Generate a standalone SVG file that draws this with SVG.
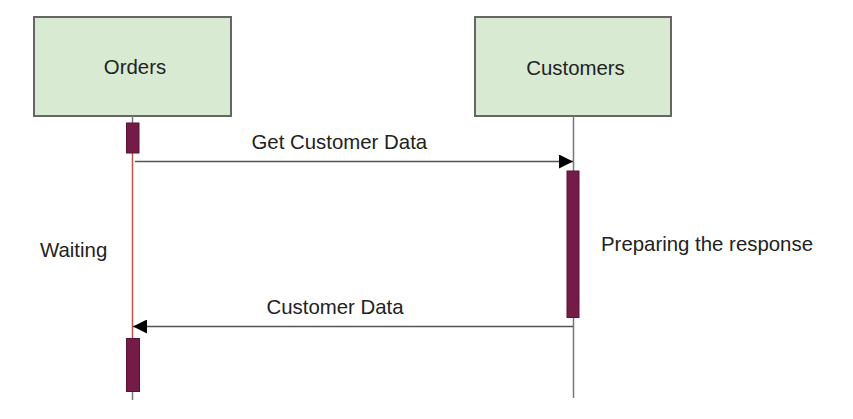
<svg xmlns="http://www.w3.org/2000/svg" width="853" height="419" viewBox="0 0 853 419">
<defs>
<marker id="ah" viewBox="0 0 14 14" refX="14" refY="7" markerWidth="14" markerHeight="14" markerUnits="userSpaceOnUse" orient="auto">
<path d="M0,0 L14,7 L0,14 Z" fill="#000"/>
</marker>
</defs>
<style>
.box{fill:#d9ead3;stroke:#666;stroke-width:2}
.act{fill:#741b47;stroke:#5a1236;stroke-width:1}
.life{stroke:#777;stroke-width:1.5;fill:none}
.red{stroke:#c0504d;stroke-width:1.5;fill:none}
.msg{stroke:#555;stroke-width:1.5;fill:none}
text{font-family:"Liberation Sans",Arial,sans-serif;font-size:20.4px;fill:#222}
</style>
<rect width="853" height="419" fill="#fff"/>
<g id="orders">
<rect class="box" x="34" y="17" width="197" height="99"/>
<text x="135" y="74" text-anchor="middle">Orders</text>
<line class="life" x1="132.5" y1="116" x2="132.5" y2="123"/>
<line class="red" x1="132.5" y1="153" x2="132.5" y2="338"/>
<line class="life" x1="132.5" y1="392" x2="132.5" y2="400"/>
<rect class="act" x="126.5" y="123" width="12.5" height="30"/>
<rect class="act" x="126.5" y="338.5" width="13" height="53"/>
</g>
<g id="customers">
<rect class="box" x="475" y="17" width="196" height="99"/>
<text x="575.5" y="75" text-anchor="middle">Customers</text>
<line class="life" x1="573.5" y1="116" x2="573.5" y2="398"/>
<rect class="act" x="567" y="171" width="12" height="146.5"/>
</g>
<g id="connectors">
<line class="msg" x1="135" y1="161.5" x2="573" y2="161.5" marker-end="url(#ah)"/>
<line class="msg" x1="573" y1="326.5" x2="133" y2="326.5" marker-end="url(#ah)"/>
</g>
<g id="labels">
<text x="251.5" y="149">Get Customer Data</text>
<text x="266.5" y="314">Customer Data</text>
<text x="40" y="257">Waiting</text>
<text x="601" y="251">Preparing the response</text>
</g>
</svg>
